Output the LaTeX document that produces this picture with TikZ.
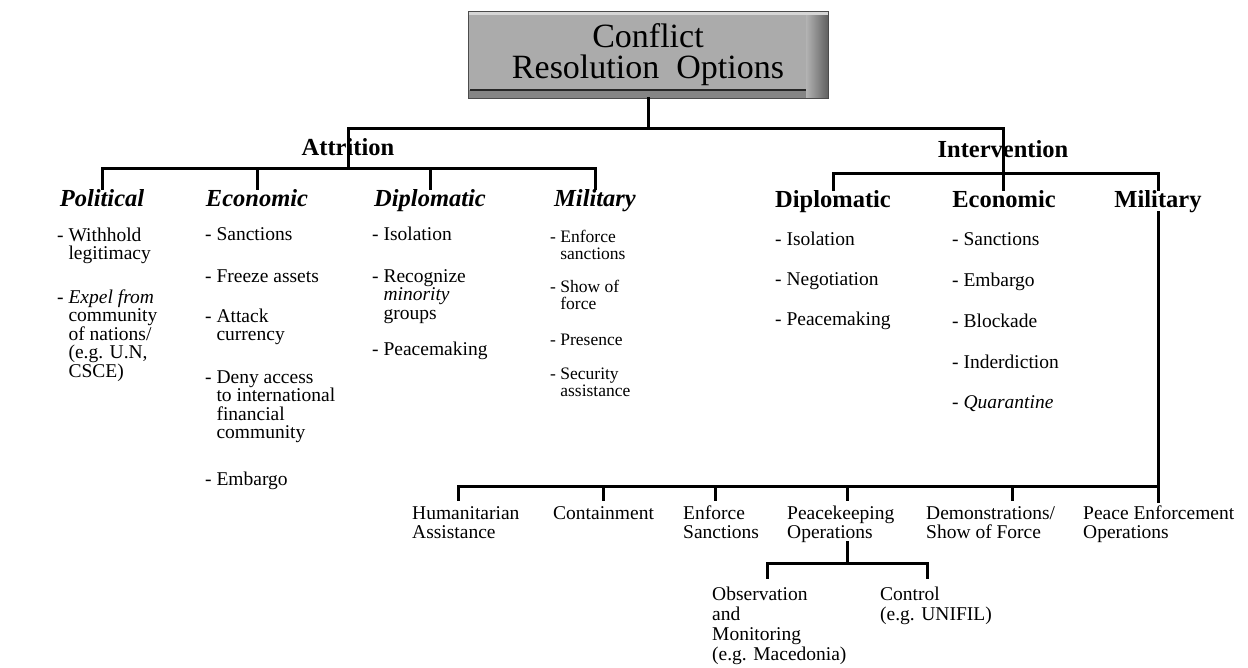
\documentclass[tikz,border=0pt]{standalone}
\usepackage{fontspec}
\setmainfont{Liberation Serif}
\begin{document}
\begin{tikzpicture}[x=1pt,y=-1pt,
  conn/.style={line width=3pt, line cap=rect, black},
  toph/.style={font=\fontsize{24.5}{26}\selectfont\bfseries, inner sep=0pt, anchor=base},
  atth/.style={font=\fontsize{24.5}{26}\selectfont\bfseries\itshape, inner sep=0pt, anchor=base},
  inth/.style={font=\fontsize{24.5}{26}\selectfont\bfseries, inner sep=0pt, anchor=base},
  item/.style={font=\fontsize{19.5}{18.5}\selectfont, inner sep=0pt, anchor=base west, align=left},
  sitem/.style={font=\fontsize{17.5}{17}\selectfont, inner sep=0pt, anchor=base west, align=left},
  lab/.style={font=\fontsize{19.5}{19.5}\selectfont, inner sep=0pt, anchor=base west, align=left},
  titlebox/.style={draw=black!70, line width=0.8pt, minimum width=360pt, minimum height=87pt, inner sep=0pt,
    font=\fontsize{34}{32}\selectfont, align=center}
]
\useasboundingbox (0,0) rectangle (1248,667);
\fill[white] (0,0) rectangle (1248,667);

% title box shading (bevel)
\fill[black!33] (468,11) rectangle (828,98);
\fill[black!16] (468,11) rectangle (828,15);
\shade[left color=black!30, right color=black!62] (806,15) rectangle (828,98);
\fill[black!48] (468,90) rectangle (806,98);
\draw[black!85, line width=1.5pt] (470,90) -- (806,90);
\node[titlebox] (title) at (648,54.5) {Conflict\\[-1pt]Resolution~ Options};

% level 1
\node[toph] (att) at (348,155) {Attrition};
\node[toph] (int) at (1003,157) {Intervention};

% level 2 (attrition)
\node[atth] (apol) at (102,206) {Political};
\node[atth] (aeco) at (257,206) {Economic};
\node[atth] (adip) at (430,206) {Diplomatic};
\node[atth] (amil) at (595,206) {Military};

% level 2 (intervention)
\node[inth] (idip) at (833,207) {Diplomatic};
\node[inth] (ieco) at (1004,207) {Economic};
\node[inth] (imil) at (1158,207) {Military};

% bus coordinates
\coordinate (b0) at (0,128);
\coordinate (b1) at (0,168);
\coordinate (ib) at (0,173);
\coordinate (b2) at (0,486);
\coordinate (b3) at (0,563);

% connectors top
\draw[conn] (title.south) -- (title.south |- b0);
\draw[conn] (att |- b0) -- (int |- b0);
\draw[conn] (att |- b0) -- (att |- b1);
\draw[conn] (apol.north |- b1) -- (amil.north |- b1);
\foreach \n in {apol,aeco,adip,amil} \draw[conn] (\n.north |- b1) -- (\n.north);
\draw[conn] (int |- b0) -- (int |- ieco.north);
\draw[conn] (idip.north |- ib) -- (imil.north |- ib);
\draw[conn] (idip.north |- ib) -- (idip.north);
\draw[conn] (imil.north |- ib) -- (imil.north);

% attrition items (base anchor = baseline of last line)
\node[item] (p1) at (57,259.5) {- Withhold\\\hphantom{- }legitimacy};
\node[item] (p2) at (57,377) {- \textit{Expel from}\\\hphantom{- }community\\\hphantom{- }of nations/\\\hphantom{- }(e.g. U.N,\\\hphantom{- }CSCE)};

\node[item] (ae1) at (205,240) {- Sanctions};
\node[item] (ae2) at (205,282) {- Freeze assets};
\node[item] (ae3) at (205,340.5) {- Attack\\\hphantom{- }currency};
\node[item] (ae4) at (205,438.5) {- Deny access\\\hphantom{- }to international\\\hphantom{- }financial\\\hphantom{- }community};
\node[item] (ae5) at (205,485) {- Embargo};

\node[item] (ad1) at (372,240) {- Isolation};
\node[item] (ad2) at (372,319) {- Recognize\\\hphantom{- }\textit{minority}\\\hphantom{- }groups};
\node[item] (ad3) at (372,355) {- Peacemaking};

\node[sitem] (am1) at (550,259) {- Enforce\\\hphantom{- }sanctions};
\node[sitem] (am2) at (550,309) {- Show of\\\hphantom{- }force};
\node[sitem] (am3) at (550,345) {- Presence};
\node[sitem] (am4) at (550,396) {- Security\\\hphantom{- }assistance};

% intervention items
\node[item] (id1) at (775,245) {- Isolation};
\node[item] (id2) at (775,285) {- Negotiation};
\node[item] (id3) at (775,325) {- Peacemaking};

\node[item] (ie1) at (952,245) {- Sanctions};
\node[item] (ie2) at (952,286) {- Embargo};
\node[item] (ie3) at (952,327) {- Blockade};
\node[item] (ie4) at (952,368) {- Inderdiction};
\node[item] (ie5) at (952,408) {- \textit{Quarantine}};

% military operations
\node[lab] (hum) at (412,538.5) {Humanitarian\\Assistance};
\node[lab] (con) at (553,519) {Containment};
\node[lab] (ens) at (683,538.5) {Enforce\\Sanctions};
\node[lab] (pko) at (787,538.5) {Peacekeeping\\Operations};
\node[lab] (dem) at (926,538.5) {Demonstrations/\\Show of Force};
\node[lab] (peo) at (1083,538.5) {Peace Enforcement\\Operations};

\coordinate (d1) at (458,486);
\coordinate (d2) at (603,486);
\coordinate (d3) at (715,486);
\coordinate (d4) at (847,486);
\coordinate (d5) at (1012,486);

\draw[conn] (imil.south) -- (imil.south |- b2);
\draw[conn] (d1) -- (imil.south |- b2);
\draw[conn, shorten >=4pt] (imil.south |- b2) -- (imil.south |- peo.north);
\draw[conn, shorten >=6pt] (d1) -- (d1 |- hum.north);
\draw[conn, shorten >=6pt] (d2) -- (d2 |- con.north);
\draw[conn, shorten >=6pt] (d3) -- (d3 |- ens.north);
\draw[conn, shorten >=6pt] (d4) -- (d4 |- pko.north);
\draw[conn, shorten >=6pt] (d5) -- (d5 |- dem.north);

% peacekeeping subtree
\node[lab, font=\fontsize{19.5}{20}\selectfont] (obs) at (712,660) {Observation\\and\\Monitoring\\(e.g. Macedonia)};
\node[lab, font=\fontsize{19.5}{20}\selectfont] (ctl) at (880,620) {Control\\(e.g. UNIFIL)};

\coordinate (d6) at (767,563);
\coordinate (d7) at (927,563);
\draw[conn] (d4 |- pko.south) -- (d4 |- b3);
\draw[conn] (d6) -- (d7);
\draw[conn, shorten >=9pt] (d6) -- (d6 |- obs.north);
\draw[conn, shorten >=9pt] (d7) -- (d7 |- ctl.north);
\end{tikzpicture}
\end{document}
